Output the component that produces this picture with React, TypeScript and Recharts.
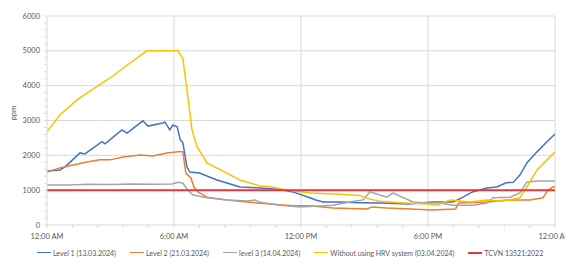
import React from 'react';
import { LineChart, Line, XAxis, YAxis, ReferenceLine, Legend } from 'recharts';

// ---- data (hours since midnight, ppm) ----
const level1Hours = [0, 0.61, 0.85, 1.56, 1.79, 2.6, 2.74, 3.54, 3.78, 4.53, 4.77, 5.48, 5.57, 5.8, 5.95, 6.15, 6.3, 6.42, 6.61, 6.75, 7.2, 8.03, 9.12, 10.06, 10.87, 11.62, 12.42, 12.7, 13.04, 13.84, 14.78, 15.73, 17.1, 17.62, 18.2, 19.2, 19.65, 20.1, 20.78, 21.25, 21.7, 22.04, 22.35, 22.67, 23.15, 23.62, 24];
const level1Ppm = [1550, 1580, 1670, 2070, 2040, 2390, 2330, 2730, 2640, 2990, 2840, 2930, 2960, 2730, 2870, 2820, 2440, 2360, 1670, 1520, 1490, 1290, 1090, 1060, 1030, 950, 780, 720, 660, 660, 640, 630, 600, 630, 660, 660, 800, 950, 1060, 1090, 1210, 1230, 1440, 1780, 2100, 2390, 2610];

const level2Hours = [0, 0.61, 1.23, 1.89, 2.5, 2.98, 3.59, 4.39, 5.0, 5.67, 6.19, 6.42, 6.56, 6.8, 6.94, 7.13, 7.56, 8.5, 9.45, 10.53, 11.62, 12.42, 13.51, 15.12, 15.35, 16.06, 17.15, 18.2, 19.3, 19.45, 20.8, 21.75, 22.83, 23.43, 23.67, 23.9, 24];
const level2Ppm = [1520, 1640, 1720, 1810, 1870, 1870, 1950, 2010, 1980, 2070, 2100, 2100, 1490, 1350, 1090, 950, 800, 720, 660, 600, 550, 550, 490, 460, 520, 490, 460, 430, 460, 630, 660, 720, 720, 780, 1000, 1090, 1100];

const level3Hours = [0, 1, 2, 3, 4, 5, 5.9, 6.2, 6.42, 6.66, 6.9, 7.56, 8.5, 9.45, 9.83, 10.06, 11.0, 11.95, 13.51, 14.3, 14.93, 15.26, 15.73, 16.06, 16.35, 16.67, 17.29, 17.95, 18.56, 19.18, 20.13, 20.78, 21.07, 21.87, 22.34, 22.67, 23.15, 24];
const level3Ppm = [1150, 1150, 1170, 1160, 1180, 1170, 1180, 1230, 1200, 1000, 860, 780, 720, 690, 720, 650, 570, 520, 570, 660, 720, 950, 860, 800, 920, 830, 660, 630, 630, 570, 570, 630, 780, 800, 920, 1230, 1260, 1260];

const noHrvHours = [0, 0.61, 1.42, 2.17, 2.98, 3.92, 4.72, 6.19, 6.42, 6.75, 6.85, 7.09, 7.56, 8.5, 9.12, 10.06, 10.68, 11.15, 11.62, 12.42, 13.84, 14.78, 15.2, 15.73, 16.67, 17.95, 18.42, 19.04, 19.98, 20.78, 21.54, 22.34, 22.67, 23.15, 23.62, 24];
const noHrvPpm = [2680, 3160, 3590, 3900, 4220, 4650, 5000, 5000, 4770, 3230, 2730, 2240, 1780, 1490, 1290, 1120, 1090, 1030, 980, 920, 880, 850, 750, 680, 640, 600, 570, 720, 660, 720, 690, 780, 1090, 1580, 1870, 2100];

const tcvnHours = [0, 24];
const tcvnPpm = [1000, 1000];

const seriesNames = ['Level 1 (13.03.2024)', 'Level 2 (21.03.2024)', 'level 3 (14.04.2024)', 'Without using HRV system (03.04.2024)', 'TCVN 13521:2022'];
const seriesColors = ['#4472C4', '#ED7D31', '#A5A5A5', '#FFC000', '#E0393E'];

const xMajor = [0, 6, 12, 18, 24];
const xLabels = ['12:00 AM', '6:00 AM', '12:00 PM', '6:00 PM', '12:00 AM'];
const yMajor = [0, 1000, 2000, 3000, 4000, 5000, 6000];
const yLabels = ['0', '1000', '2000', '3000', '4000', '5000', '6000'];

const xTicks = Array.from({ length: 21 }, (_, i) => Math.round(i * 1.2 * 10) / 10);
const yTicks = Array.from({ length: 31 }, (_, i) => i * 200);

const toRows = (hs: number[], vs: number[]) => hs.map((h, i) => ({ h, v: vs[i] }));
const seriesData = [
  toRows(level1Hours, level1Ppm),
  toRows(level2Hours, level2Ppm),
  toRows(level3Hours, level3Ppm),
  toRows(noHrvHours, noHrvPpm),
  toRows(tcvnHours, tcvnPpm),
];

const FONT = 'Lato, "Open Sans", sans-serif';
const TXT = '#595959';
const FS = 7.5;

const XTick = (props: any) => {
  const { x, y, payload } = props;
  const idx = xMajor.findIndex((m) => Math.abs(m - payload.value) < 1e-6);
  if (idx < 0) return null;
  return (
    <text x={x} y={y} dy="0.75em" textAnchor="middle" fill={TXT} fontSize={FS} fontFamily={FONT}>
      {xLabels[idx]}
    </text>
  );
};

const YTick = (props: any) => {
  const { x, y, payload } = props;
  const idx = yMajor.findIndex((m) => Math.abs(m - payload.value) < 1e-6);
  if (idx < 0) return null;
  return (
    <text x={x} y={y} dy="0.35em" textAnchor="end" fill={TXT} fontSize={FS} fontFamily={FONT}>
      {yLabels[idx]}
    </text>
  );
};

const LegendContent = () => (
  <div style={{ display: 'flex', justifyContent: 'flex-start', alignItems: 'center', paddingLeft: 37, fontFamily: FONT, fontSize: 7, color: TXT, whiteSpace: 'nowrap', height: 13 }}>
    {seriesNames.map((n, i) => (
      <div key={n} style={{ display: 'flex', alignItems: 'center', marginRight: i < seriesNames.length - 1 ? 14 : 0 }}>
        <div style={{ width: 14, height: i === 4 ? 2 : 1.5, background: seriesColors[i], marginRight: 2 }} />
        <span>{n}</span>
      </div>
    ))}
  </div>
);

export default function App() {
  return (
    <div style={{ position: 'absolute', left: 0, top: 0, background: '#fff' }}>
      <LineChart width={565} height={258} margin={{ top: 16, right: 10, left: 0, bottom: 0 }}>
        {yMajor.filter((v) => v > 0).map((v) => (
          <ReferenceLine key={'gy' + v} y={v} stroke="#d9d9d9" strokeWidth={1} />
        ))}
        {xMajor.filter((v) => v > 0).map((v) => (
          <ReferenceLine key={'gx' + v} x={v} stroke="#d9d9d9" strokeWidth={1} />
        ))}
        <XAxis
          type="number"
          dataKey="h"
          domain={[0, 24]}
          ticks={xTicks}
          interval={0}
          tick={<XTick />}
          tickSize={3}
          tickMargin={5}
          axisLine={{ stroke: '#d9d9d9' }}
          tickLine={{ stroke: '#d9d9d9' }}
          height={20}
          allowDataOverflow
        />
        <YAxis
          type="number"
          domain={[0, 6000]}
          ticks={yTicks}
          interval={0}
          tick={<YTick />}
          tickSize={3}
          tickMargin={4}
          width={47}
          axisLine={{ stroke: '#d9d9d9' }}
          tickLine={{ stroke: '#d9d9d9' }}
          label={{ value: 'ppm', angle: -90, position: 'insideLeft', offset: 13, fill: TXT, fontSize: FS, fontFamily: FONT }}
        />
        <Legend
          verticalAlign="bottom"
          height={13}
          wrapperStyle={{ left: 0, width: 565, top: 246 }}
          content={<LegendContent />}
        />
        {seriesData.map((d, i) => (
          <Line
            key={seriesNames[i]}
            data={d}
            dataKey="v"
            name={seriesNames[i]}
            type="linear"
            stroke={seriesColors[i]}
            strokeWidth={i === 4 ? 2 : 1.5}
            dot={false}
            activeDot={false}
            isAnimationActive={false}
          />
        ))}
      </LineChart>
    </div>
  );
}
